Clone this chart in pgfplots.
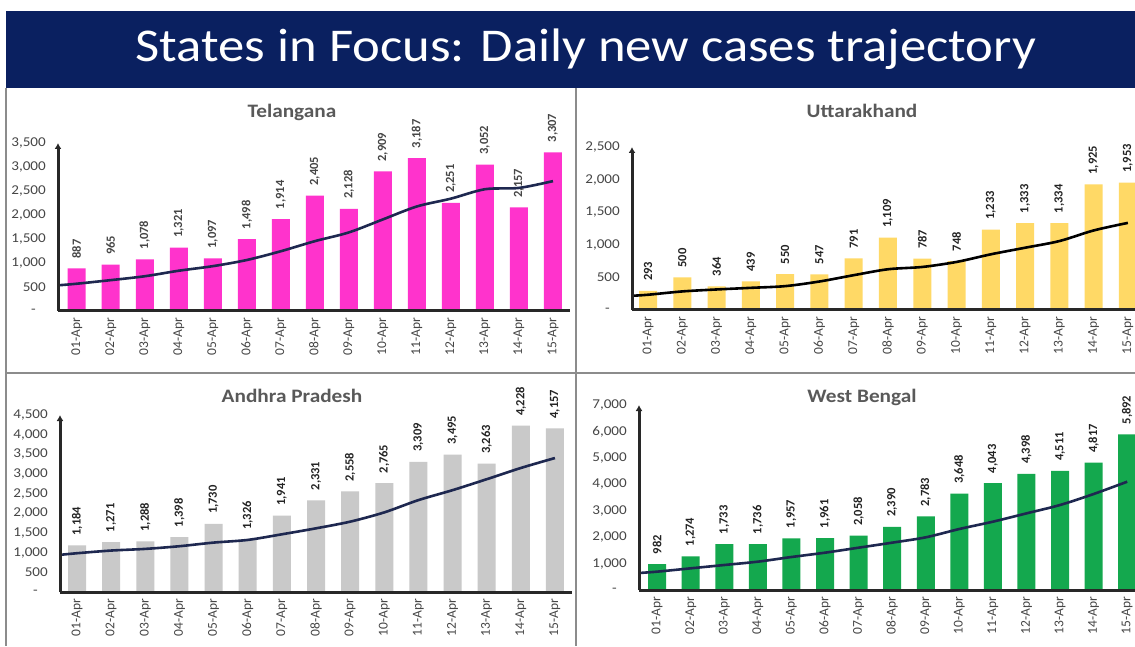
\documentclass[border=0pt]{standalone}
\usepackage{fontspec}
\setmainfont{Carlito}[FakeStretch=1.12]
\newfontfamily\rotfont{Carlito}
\usepackage{pgfplots}
\pgfplotsset{compat=1.18}
\usetikzlibrary{arrows.meta}

\definecolor{banner}{RGB}{10,32,96}
\definecolor{trend}{RGB}{30,40,80}
\definecolor{axisgray}{RGB}{40,40,40}
\definecolor{tickgray}{RGB}{70,70,70}
\definecolor{titlegray}{RGB}{89,89,89}
\definecolor{bordergray}{RGB}{140,140,140}
\definecolor{labelgray}{RGB}{35,35,35}
\definecolor{magentabar}{RGB}{255,51,204}
\definecolor{goldbar}{RGB}{255,217,102}
\definecolor{graybar}{RGB}{201,201,201}
\definecolor{greenbar}{RGB}{20,168,78}

\pgfplotsset{
  panel/.style={
    scale only axis, anchor=south west, clip=false,
    xmax=15.5, ymin=0,
    axis x line=bottom, axis y line=left,
    axis line style={draw=none},
    extra description/.code={
      \draw[axisgray, line width=3pt] (rel axis cs:0,0) -- (rel axis cs:1,0);
      \draw[axisgray, line width=3pt, -{Latex[length=6pt,width=7pt]}] (rel axis cs:0,0) -- (rel axis cs:0,1);
    },
    major tick length=0pt,
    xtick={1,...,15},
    xticklabels={01-Apr,02-Apr,03-Apr,04-Apr,05-Apr,06-Apr,07-Apr,08-Apr,09-Apr,10-Apr,11-Apr,12-Apr,13-Apr,14-Apr,15-Apr},
    xticklabel style={rotate=90, anchor=east, font=\rotfont\fontsize{13.5}{13.5}\selectfont, text=tickgray, inner sep=0pt},
    xticklabel shift=7pt,
    yticklabel={\ifdim\tick pt=0pt -\hspace*{10pt}\else\pgfmathprintnumber{\tick}\fi},
    yticklabel style={font=\fontsize{13.5}{13.5}\selectfont, text=tickgray, inner sep=0pt, anchor=east},
    yticklabel shift=12pt,
    /pgf/number format/1000 sep={,},
    /pgf/number format/fixed,
    /pgf/number format/precision=0,
    /pgf/number format/assume math mode=true,
  },
  barplot/.style={
    ybar, bar width=18pt, draw=none, fill=#1,
    nodes near coords,
    every node near coord/.append style={rotate=90, anchor=west, font=\rotfont\bfseries\fontsize{12.5}{12.5}\selectfont, text=labelgray, inner sep=0pt, outer sep=10pt},
  },
  trendline/.style={draw=#1, line width=2.6pt, smooth, tension=0.5, mark=none},
}

\begin{document}
\begin{tikzpicture}[x=1pt,y=1pt]
\useasboundingbox (0,0) rectangle (1135,646);
\clip (0,0) rectangle (1135,646);
\fill[white] (0,0) rectangle (1135,646);
\fill[banner] (6,558) rectangle (1135,635);
\node[text=white, font=\fontsize{47}{47}\selectfont] at (586,597) {States in Focus: Daily new cases trajectory};
\draw[bordergray, line width=1.2pt] (6,558) -- (6,0);
\draw[bordergray, line width=1.2pt] (576,558) -- (576,0);
\draw[bordergray, line width=1.2pt] (6,273) -- (1135,273);

\node[font=\bfseries\fontsize{19}{19}\selectfont, text=titlegray] at (292,534) {Telangana};
\node[font=\bfseries\fontsize{19}{19}\selectfont, text=titlegray] at (862,535) {Uttarakhand};
\node[font=\bfseries\fontsize{19}{19}\selectfont, text=titlegray] at (292,250) {Andhra Pradesh};
\node[font=\bfseries\fontsize{19}{19}\selectfont, text=titlegray] at (862,249) {West Bengal};

% Telangana
\begin{axis}[panel, at={(58pt,335pt)}, width=512pt, height=168pt,
  xmin=0.45, ymax=3500, ytick={0,500,...,3500}]
\addplot[barplot=magentabar, every node near coord/.append style={text=tickgray}] coordinates {
(1,887) (2,965) (3,1078) (4,1321) (5,1097) (6,1498) (7,1914) (8,2405)
(9,2128) (10,2909) (11,3187) (12,2251) (13,3052) (14,2157) (15,3307)};
\addplot[trendline=trend] coordinates {
(0.45,535) (1,568) (2,643) (3,724) (4,839) (5,934) (6,1062) (7,1245) (8,1455)
(9,1637) (10,1908) (11,2178) (12,2341) (13,2537) (14,2564) (15,2706)};
\end{axis}

% Uttarakhand
\begin{axis}[panel, at={(632pt,336pt)}, width=513pt, height=163pt,
  xmin=0.53, ymax=2500, ytick={0,500,...,2500}]
\addplot[barplot=goldbar] coordinates {
(1,293) (2,500) (3,364) (4,439) (5,550) (6,547) (7,791) (8,1109)
(9,787) (10,748) (11,1233) (12,1333) (13,1334) (14,1925) (15,1953)};
\addplot[trendline=black] coordinates {
(0.53,218) (1,234) (2,285) (3,315) (4,340) (5,366) (6,437) (7,534) (8,625)
(9,660) (10,737) (11,854) (12,955) (13,1057) (14,1220) (15,1336)};
\end{axis}

% Andhra Pradesh
\begin{axis}[panel, at={(60pt,54pt)}, width=512pt, height=177pt,
  xmin=0.5, ymax=4500, ytick={0,500,...,4500}]
\addplot[barplot=graybar] coordinates {
(1,1184) (2,1271) (3,1288) (4,1398) (5,1730) (6,1326) (7,1941) (8,2331)
(9,2558) (10,2765) (11,3309) (12,3495) (13,3263) (14,4228) (15,4157)};
\addplot[trendline=trend] coordinates {
(0.5,944) (1,986) (2,1054) (3,1096) (4,1164) (5,1256) (6,1324) (7,1467) (8,1619)
(9,1788) (10,2024) (11,2336) (12,2589) (13,2867) (14,3153) (15,3406)};
\end{axis}

% West Bengal
\begin{axis}[panel, at={(639pt,56pt)}, width=505pt, height=185pt,
  xmin=0.46, ymax=7000, ytick={0,1000,...,7000}]
\addplot[barplot=greenbar] coordinates {
(1,982) (2,1274) (3,1733) (4,1736) (5,1957) (6,1961) (7,2058) (8,2390)
(9,2783) (10,3648) (11,4043) (12,4398) (13,4511) (14,4817) (15,5892)};
\addplot[trendline=trend] coordinates {
(0.46,643) (1,694) (2,820) (3,946) (4,1072) (5,1248) (6,1412) (7,1601) (8,1791)
(9,1993) (10,2308) (11,2585) (12,2900) (13,3216) (14,3632) (15,4098)};
\end{axis}
\end{tikzpicture}
\end{document}
